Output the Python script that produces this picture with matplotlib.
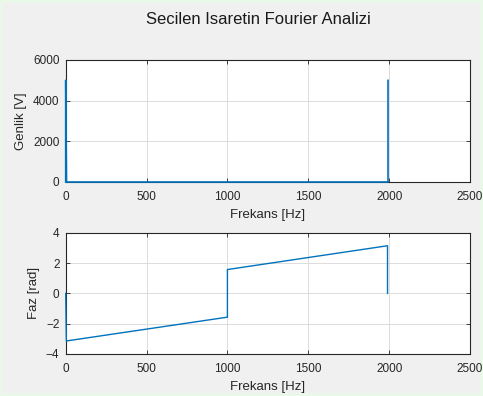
import matplotlib.pyplot as plt

# genlik spektrumu (kirilma noktalari)
freq_mag = [0, 0, 5, 1990, 1993, 1993]
genlik = [0, 5000, 0, 0, 0, 5000]

# faz spektrumu (kirilma noktalari)
freq_faz = [0, 4, 1000, 1000, 1990, 1990]
faz = [0, -3.14, -1.57, 1.57, 3.14, 0]

x_ticks = [0, 500, 1000, 1500, 2000, 2500]
mag_ticks = [0, 2000, 4000, 6000]
faz_ticks = [-4, -2, 0, 2, 4]

plt.rcParams['font.family'] = ['Liberation Sans', 'DejaVu Sans']
plt.rcParams['font.size'] = 8

mavi = '#0072BD'
koyu = '#262626'

fig = plt.figure(figsize=(4.83, 3.96), dpi=100, facecolor='#f0f0f0',
                 edgecolor='#eaf8ea', linewidth=3)
ax1 = fig.add_axes([65.7 / 483, 1 - 182 / 396, 404.3 / 483, 122 / 396])
ax2 = fig.add_axes([65.7 / 483, 1 - 354 / 396, 404.3 / 483, 121.3 / 396])

ax1.plot(freq_mag, genlik, color=mavi, lw=1.2, clip_on=False, zorder=3)
ax2.plot(freq_faz, faz, color=mavi, lw=1.0, clip_on=False, zorder=3)

ax1.set_ylim(0, 6000)
ax1.set_yticks(mag_ticks)
ax2.set_ylim(-4, 4)
ax2.set_yticks(faz_ticks)
ax1.set_ylabel('Genlik [V]', fontsize=9.5, color=koyu, labelpad=4)
ax2.set_ylabel('Faz [rad]', fontsize=9.5, color=koyu, labelpad=4)

for ax in (ax1, ax2):
    ax.set_xlim(0, 2500)
    ax.set_xticks(x_ticks)
    ax.set_xlabel('Frekans [Hz]', fontsize=9.5, color=koyu, labelpad=4)
    ax.grid(True, color='#dcdcdc', lw=0.7)
    ax.set_axisbelow(True)
    ax.tick_params(direction='in', length=3, width=0.6, colors=koyu,
                   labelsize=8.5, top=True, right=True)
    ax.tick_params(axis='x', pad=6.5)
    ax.tick_params(axis='y', pad=4.5)
    for s in ax.spines.values():
        s.set_color(koyu)
        s.set_linewidth(0.8)

fig.text(0.534, 1 - 20 / 396, 'Secilen Isaretin Fourier Analizi',
         ha='center', va='center', fontsize=12, color='#1a1a1a')

fig.savefig('out.png', dpi=100, facecolor=fig.get_facecolor(),
            edgecolor=fig.get_edgecolor())
